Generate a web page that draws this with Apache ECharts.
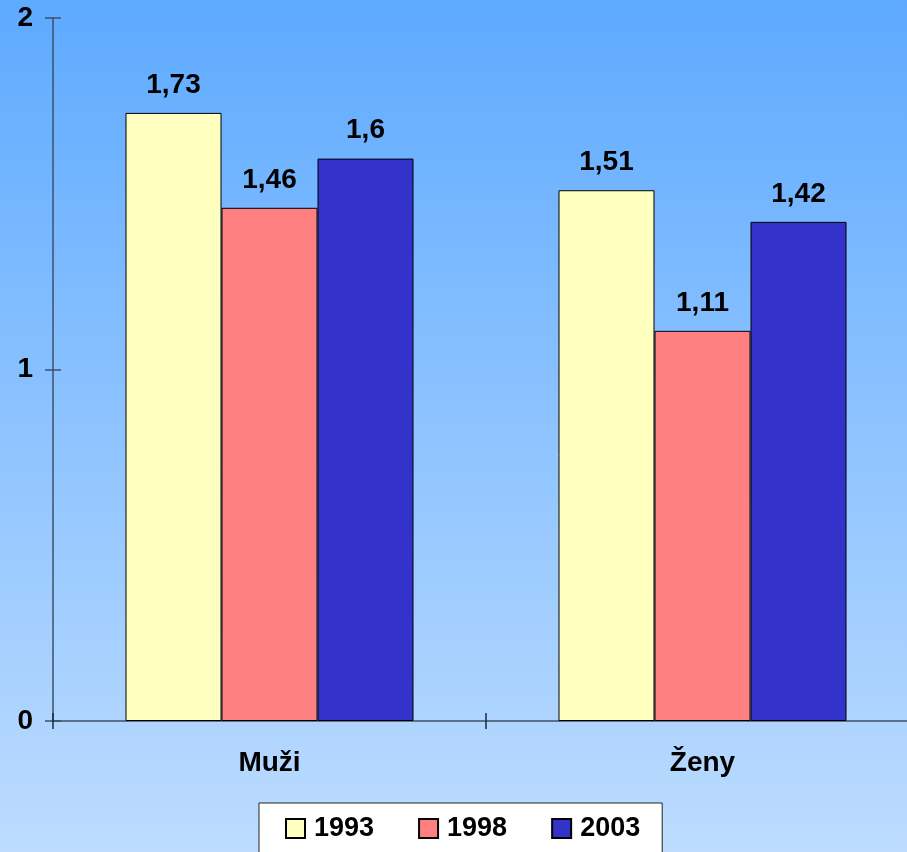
<!DOCTYPE html>
<html>
<head>
<meta charset="utf-8">
<script src="https://cdn.jsdelivr.net/npm/echarts@6/dist/echarts.min.js"></script>
<style>
  html, body { margin: 0; padding: 0; }
  #chart { width: 907px; height: 852px; }
</style>
</head>
<body>
<div id="chart"></div>
<script>
const categories = ['Muži', 'Ženy']
const years = ['1993', '1998', '2003']
const v1993 = [1.73, 1.51]
const v1998 = [1.46, 1.11]
const v2003 = [1.6, 1.42]
const colors = ['#ffffc0', '#ff8080', '#3333cc']

const font = 'Liberation Sans, Arial, sans-serif'
const axisColor = '#3c5068'

function makeSeries (name, data, idx) {
  return {
    name: name,
    type: 'bar',
    data: data,
    barWidth: 96,
    barGap: '0%',
    itemStyle: {
      color: colors[idx],
      borderColor: '#000',
      borderWidth: 1
    },
    label: {
      show: true,
      position: 'top',
      distance: 14,
      color: '#000',
      fontFamily: font,
      fontWeight: 'bold',
      fontSize: 28,
      formatter: p => String(p.value).replace('.', ',')
    }
  }
}

const chart = echarts.init(document.getElementById('chart'))
chart.setOption({
  animation: false,
  backgroundColor: {
    type: 'linear', x: 0, y: 0, x2: 0, y2: 1,
    colorStops: [
      { offset: 0, color: '#5eaaff' },
      { offset: 1, color: '#bddcff' }
    ]
  },
  grid: { left: 53, top: 18, right: -12, bottom: 131, outerBoundsMode: 'none' },
  legend: {
    data: years,
    left: 259,
    top: 803,
    padding: [12, 22, 30, 26],
    itemWidth: 19,
    itemHeight: 19,
    itemGap: 44,
    icon: 'rect',
    backgroundColor: '#fff',
    borderColor: '#222',
    borderWidth: 1,
    textStyle: { fontFamily: font, fontWeight: 'bold', fontSize: 27, color: '#000', padding: [0, 0, 0, 4] }
  },
  xAxis: [
    {
      type: 'category',
      data: categories,
      axisLine: { lineStyle: { color: axisColor, width: 1.5 } },
      axisTick: { show: true, length: 8, lineStyle: { color: '#1e2a38', width: 1.5 } },
      axisLabel: { margin: 28, fontFamily: font, fontWeight: 'bold', fontSize: 28, color: '#000' }
    },
    {
      type: 'category',
      data: categories,
      position: 'bottom',
      axisLine: { show: false },
      axisTick: { show: true, inside: true, length: 8, lineStyle: { color: '#1e2a38', width: 1.5 } },
      axisLabel: { show: false }
    }
  ],
  yAxis: [
    {
      type: 'value',
      min: 0,
      max: 2,
      interval: 1,
      splitLine: { show: false },
      axisLine: { show: true, lineStyle: { color: axisColor, width: 1.5 } },
      axisTick: { show: true, length: 8, lineStyle: { color: axisColor, width: 1.5 } },
      axisLabel: { margin: 20, fontFamily: font, fontWeight: 'bold', fontSize: 28, color: '#000' }
    },
    {
      type: 'value',
      position: 'left',
      min: 0,
      max: 2,
      interval: 1,
      splitLine: { show: false },
      axisLine: { show: false },
      axisTick: { show: true, inside: true, length: 8, lineStyle: { color: axisColor, width: 1.5 } },
      axisLabel: { show: false }
    }
  ],
  series: [
    makeSeries('1993', v1993, 0),
    makeSeries('1998', v1998, 1),
    makeSeries('2003', v2003, 2)
  ]
})
</script>
</body>
</html>
